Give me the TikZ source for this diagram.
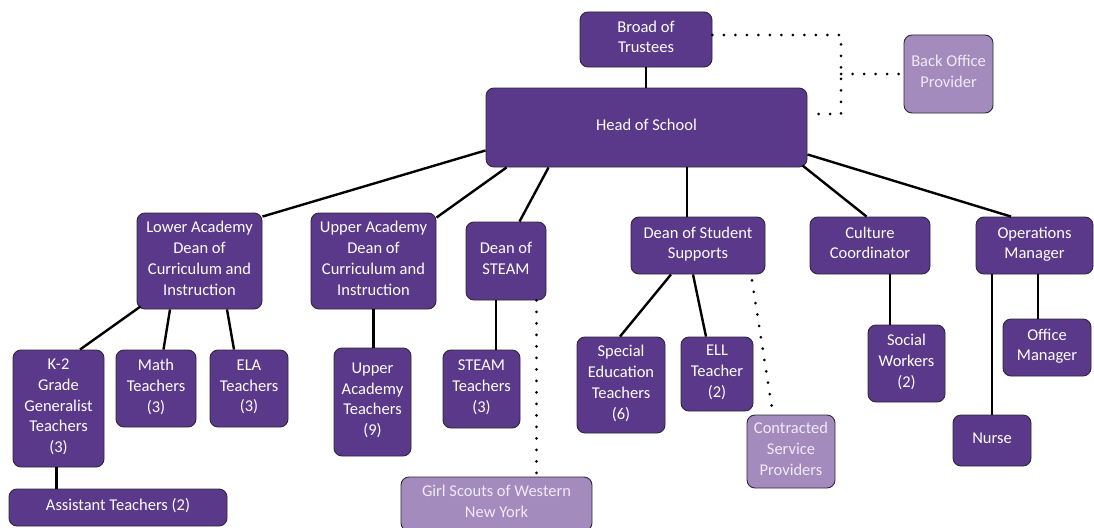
\documentclass[tikz,border=0pt]{standalone}
\usepackage{fontspec}
\setmainfont{Carlito}
\definecolor{dark}{RGB}{90,56,138}
\definecolor{light}{RGB}{164,139,190}
\definecolor{lighttext}{RGB}{240,234,246}
\definecolor{edge}{RGB}{45,40,55}
\begin{document}
\begin{tikzpicture}[x=1pt,y=-1pt,
  box/.style={draw=edge, line width=0.9pt, fill=dark, rounded corners=8pt, text=white, align=center, inner sep=0pt,
    font=\fontsize{16.5}{20.7}\selectfont,
    execute at begin node={\rule{0pt}{12pt}},
    execute at end node={\rule[-5.5pt]{0pt}{5.5pt}}},
  lbox/.style={box, fill=light, text=lighttext},
  sz/.style 2 args={minimum width=#1pt, minimum height=#2pt},
  link/.style={line width=2.4pt, draw=black},
  dotline/.style={line width=3pt, line cap=round, dash pattern=on 0pt off 11.5pt, draw=black}]
\useasboundingbox (0,0) rectangle (1094,527);
% top level
\node[box, sz={132}{55}] (trustees) at (646,39.5) {Broad of\\Trustees};
\node[lbox, sz={89}{78}] (backoffice) at (948.5,74) {Back Office\\Provider};
\node[box, sz={321}{79}] (head) at (646.5,127.5) {Head of School};
% second level
\node[box, sz={125}{96}] (lowerdean) at (199.5,261) {Lower Academy\\Dean of\\Curriculum and\\Instruction};
\node[box, sz={125}{96}] (upperdean) at (373.5,261) {Upper Academy\\Dean of\\Curriculum and\\Instruction};
\node[box, sz={80}{78}] (steamdean) at (506,261) {Dean of\\STEAM};
\node[box, sz={134}{57}] (studentdean) at (698,245.5) {Dean of Student\\Supports};
\node[box, sz={120}{57}] (culture) at (870,245.5) {Culture\\Coordinator};
\node[box, sz={117}{57}] (ops) at (1034.5,245.5) {Operations\\Manager};
% third level
\node[box, sz={91}{117}] (k2) at (58.5,408.5) {K-2\\Grade\\Generalist\\Teachers\\(3)};
\node[box, sz={80}{77}] (math) at (156,388.5) {Math\\Teachers\\(3)};
\node[box, sz={78}{77}] (ela) at (249,388.5) {ELA\\Teachers\\(3)};
\node[box, sz={77}{108}] (uat) at (372.5,402) {Upper\\Academy\\Teachers\\(9)};
\node[box, sz={77}{78}] (steamt) at (481.5,389) {STEAM\\Teachers\\(3)};
\node[box, sz={88}{96}] (sped) at (621,385) {Special\\Education\\Teachers\\(6)};
\node[box, sz={72}{74}] (ell) at (717,374) {ELL\\Teacher\\(2)};
\node[lbox, sz={88}{73}] (contracted) at (791,451.5) {Contracted\\Service\\Providers};
\node[box, sz={77}{77}] (social) at (906.5,363.5) {Social\\Workers\\(2)};
\node[box, sz={88}{57}] (office) at (1047,347.5) {Office\\Manager};
\node[box, sz={78}{51}] (nurse) at (992,440.5) {Nurse};
\node[box, sz={218}{37}] (assistant) at (118,507.5) {Assistant Teachers (2)};
\node[lbox, sz={191}{54}] (girlscouts) at (496.5,504) {Girl Scouts of Western\\New York};
% solid connectors
\draw[link] (trustees.south) -- (trustees.south |- head.north);
\draw[link] ([yshift=17pt]head.south west) -- ([yshift=-4pt]lowerdean.north east);
\draw[link] ([xshift=21pt]head.south west) -- ([yshift=-5pt]upperdean.north east);
\draw[link] ([xshift=63pt]head.south west) -- ([xshift=13.5pt]steamdean.north);
\draw[link] ([xshift=-11pt]studentdean.north) -- ([xshift=-11pt]studentdean.north |- head.south);
\draw[link] ([xshift=-5pt,yshift=2pt]head.south east) -- ([xshift=-3.5pt]culture.north);
\draw[link] ([yshift=13pt]head.south east) -- ([xshift=-23.5pt]ops.north);
\draw[link] ([xshift=4pt,yshift=3pt]lowerdean.south west) -- ([xshift=21.5pt]k2.north);
\draw[link] ([xshift=-29.5pt]lowerdean.south) -- ([xshift=7.5pt]math.north);
\draw[link] ([xshift=27.5pt]lowerdean.south) -- ([xshift=-15pt]ela.north);
\draw[link] (upperdean.south) -- (upperdean.south |- uat.north);
\draw[link] ([xshift=-10pt]steamdean.south) -- ([xshift=-10pt]steamdean.south |- steamt.north);
\draw[link] ([xshift=-2pt]k2.south) -- ([xshift=-2pt]k2.south |- assistant.north);
\draw[link] ([xshift=-27pt]studentdean.south) -- ([xshift=-1pt]sped.north);
\draw[link] ([xshift=-5pt]studentdean.south) -- ([xshift=-11pt]ell.north);
\draw[link] ([xshift=20pt]culture.south) -- ([xshift=20pt]culture.south |- social.north);
\draw[link] (nurse.north) -- (nurse.north |- ops.south);
\draw[link] ([xshift=3.5pt]ops.south) -- ([xshift=3.5pt]ops.south |- office.north);
% dotted connectors
\coordinate (dj) at (841,74);
\draw[dotline] ([yshift=4.5pt]trustees.east) -| (dj) |- ([yshift=13.5pt]head.east);
\draw[dotline] (dj) -- (backoffice.west);
\draw[dotline] ([xshift=30.5pt]steamdean.south) -- ([xshift=30.5pt]steamdean.south |- girlscouts.north);
\draw[dotline] ([xshift=54pt,yshift=-6pt]studentdean.south) -- ([xshift=-18pt]contracted.north);
\end{tikzpicture}
\end{document}
